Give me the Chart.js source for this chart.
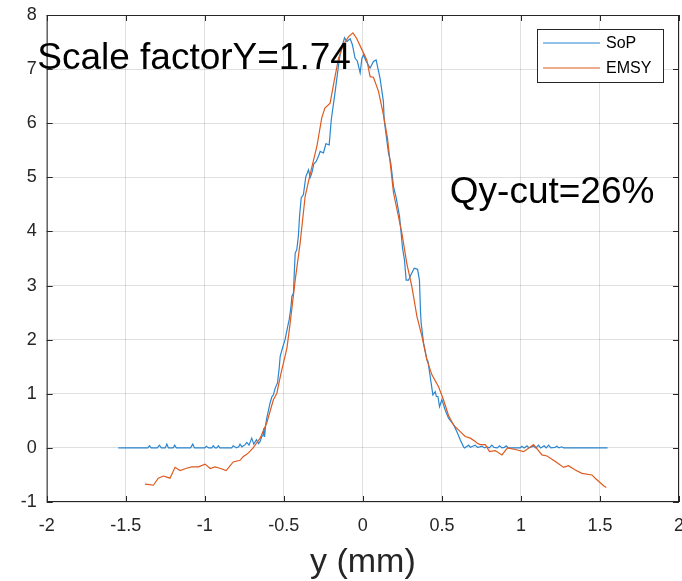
<!DOCTYPE html>
<html>
<head>
<meta charset="utf-8">
<script src="https://cdn.jsdelivr.net/npm/chart.js@4.4.0/dist/chart.umd.min.js"></script>
<style>
  html, body { margin: 0; padding: 0; background: #fff; }
  canvas { display: block; }
</style>
</head>
<body>
<canvas id="profile" width="682" height="581"></canvas>
<script>
// measured profile (SoP) and fitted profile (EMSY), y in mm
const sopY = [
  -1.547, -1.36, -1.35, -1.34, -1.30, -1.287, -1.275, -1.25, -1.24, -1.23, -1.20, -1.19, -1.18,
  -1.09, -1.076, -1.065, -1.00, -0.99, -0.975, -0.955, -0.946, -0.935, -0.924, -0.914, -0.905,
  -0.83, -0.82, -0.80, -0.785, -0.777, -0.765, -0.745, -0.734, -0.72, -0.703, -0.69, -0.673,
  -0.66, -0.65, -0.638, -0.632, -0.627, -0.622, -0.615, -0.608, -0.595, -0.587, -0.575, -0.566,
  -0.555, -0.54, -0.53, -0.523, -0.508, -0.492, -0.475, -0.466, -0.455, -0.449, -0.439, -0.435,
  -0.428, -0.418, -0.408, -0.40, -0.39, -0.376, -0.361, -0.344, -0.333, -0.323, -0.31, -0.296,
  -0.281, -0.27, -0.249, -0.234, -0.213, -0.20, -0.175, -0.148, -0.134, -0.116, -0.101, -0.08,
  -0.066, -0.049, -0.035, -0.017, -0.006, 0.004, 0.02, 0.046, 0.067, 0.084, 0.095, 0.109, 0.13,
  0.135, 0.162, 0.177, 0.194, 0.211, 0.232, 0.242, 0.251, 0.263, 0.274, 0.289, 0.304, 0.325,
  0.346, 0.358, 0.365, 0.369, 0.384, 0.405, 0.412, 0.426, 0.443, 0.458, 0.465, 0.475, 0.485,
  0.5, 0.51, 0.521, 0.542, 0.574, 0.595, 0.616, 0.637, 0.643, 0.655, 0.669, 0.68, 0.695, 0.711,
  0.725, 0.74, 0.753, 0.77, 0.785, 0.8, 0.816, 0.83, 0.85, 0.865, 0.88, 0.895, 0.907, 0.92,
  0.995, 1.006, 1.02, 1.038, 1.05, 1.08, 1.095, 1.111, 1.125, 1.147, 1.16, 1.175, 1.19, 1.215,
  1.228, 1.24, 1.259, 1.27, 1.548
];
const sopValues = [
  0, 0, 0.04, 0, 0, 0.05, 0, 0, 0.07, 0, 0, 0.05, 0,
  0, 0.07, 0, 0, 0.03, 0, 0, 0.04, 0, 0, 0.04, 0,
  0, 0.04, 0, 0.02, 0.07, 0.02, 0.06, 0.1, 0.05, 0.18, 0.07, 0.15,
  0.08, 0.12, 0.22, 0.22, 0.36, 0.2, 0.42, 0.55, 0.72, 0.83, 0.95, 0.98,
  1.1, 1.2, 1.45, 1.69, 1.85, 2.0, 2.25, 2.37, 2.6, 2.8, 2.86, 3.15,
  3.6, 3.66, 3.91, 4.3, 4.62, 4.68, 5.01, 5.14, 5.0, 5.08, 5.25, 5.29,
  5.39, 5.48, 5.45, 5.62, 5.6, 6.06, 6.59, 7.2, 7.39, 7.58, 7.51, 7.56,
  7.45, 7.2, 7.15, 6.93, 7.2, 7.26, 7.15, 7.02, 7.14, 7.17, 7.02, 6.83, 6.4,
  6.06, 5.45, 5.26, 4.83, 4.62, 4.28, 3.97, 3.69, 3.48, 3.1, 3.1, 3.2, 3.32,
  3.3, 3.1, 2.5, 2.3, 1.94, 1.63, 1.6, 1.32, 0.98, 1.04, 0.95, 0.95, 0.76,
  0.89, 0.8, 0.7, 0.55, 0.43, 0.3, 0.15, 0.02, 0, 0.02, 0.05, 0.01, 0.03, 0.05,
  0.01, 0.02, 0.03, 0, 0.02, 0, 0.05, 0.01, 0, 0.04, 0, 0.01, 0.04, 0,
  0, 0.03, 0, 0.04, 0, 0.03, 0, 0.05, 0, 0.04, 0, 0.05, 0, 0.01,
  0.03, 0, 0.02, 0, 0
];
const emsyY = [
  -1.378, -1.35, -1.325, -1.294, -1.262, -1.24, -1.22, -1.188, -1.156, -1.12, -1.082, -1.04,
  -0.998, -0.966, -0.935, -0.9, -0.865, -0.82, -0.777, -0.756, -0.734, -0.713, -0.694, -0.67,
  -0.65, -0.608, -0.566, -0.544, -0.52, -0.48, -0.46, -0.44, -0.428, -0.397, -0.365, -0.334,
  -0.291, -0.26, -0.24, -0.207, -0.186, -0.154, -0.123, -0.09, -0.063, -0.04, -0.006, 0.025,
  0.046, 0.067, 0.099, 0.13, 0.156, 0.194, 0.247, 0.278, 0.31, 0.342, 0.374, 0.405, 0.437,
  0.479, 0.51, 0.542, 0.574, 0.616, 0.648, 0.68, 0.711, 0.722, 0.742, 0.775, 0.801, 0.837,
  0.88, 0.915, 0.964, 1.017, 1.08, 1.133, 1.165, 1.218, 1.27, 1.301, 1.344, 1.386, 1.449,
  1.47, 1.523, 1.54
];
const emsyValues = [
  -0.67, -0.68, -0.69, -0.56, -0.52, -0.54, -0.56, -0.36, -0.42, -0.38, -0.35, -0.35,
  -0.3, -0.38, -0.35, -0.38, -0.42, -0.26, -0.23, -0.16, -0.12, -0.06, 0.0, 0.1,
  0.18, 0.46, 0.89, 1.01, 1.35, 1.85, 2.3, 2.8, 3.1, 3.78, 4.65, 5.05,
  5.57, 6.1, 6.28, 6.37, 6.71, 7.2, 7.45, 7.6, 7.67, 7.57, 7.36, 7.17,
  6.86, 6.85, 6.59, 6.16, 5.72, 4.71, 3.97, 3.41, 2.98, 2.43, 2.06, 1.63, 1.35,
  1.13, 0.89, 0.6, 0.42, 0.3, 0.21, 0.18, 0.12, 0.09, 0.06, 0.06, -0.07, -0.05,
  -0.13, 0.0, -0.03, -0.07, 0.06, -0.13, -0.15, -0.25, -0.36, -0.33, -0.41, -0.47, -0.5,
  -0.56, -0.7, -0.73
];
const seriesNames = ['SoP', 'EMSY'];
const seriesColors = ['#2a86cf', '#de5a1e'];
const notes = [
  { text: 'Scale factorY=1.74', x: -2.06, y: 7.0 },
  { text: 'Qy-cut=26%', x: 0.55, y: 4.53 }
];

const toPoints = (xs, ys) => xs.map((v, i) => ({ x: v, y: ys[i] }));

const axisInk = '#262626';
const sans = '"Liberation Sans", Arial, Helvetica, sans-serif';

// box frame, inward ticks, legend and text labels on top of the plot
const frameAndNotes = {
  id: 'frameAndNotes',
  afterDatasetsDraw(chart) {
    const { ctx, chartArea: a, scales } = chart;
    const xs = scales.x, ys = scales.y;
    ctx.save();
    ctx.strokeStyle = axisInk;
    ctx.lineWidth = 1;
    ctx.strokeRect(a.left + 0.5, a.top + 0.5, a.right - a.left - 1, a.bottom - a.top - 1);

    const len = 6;
    ctx.beginPath();
    xs.ticks.forEach(t => {
      const px = Math.round(xs.getPixelForValue(t.value)) + 0.5;
      ctx.moveTo(px, a.bottom); ctx.lineTo(px, a.bottom - len);
      ctx.moveTo(px, a.top); ctx.lineTo(px, a.top + len);
    });
    ys.ticks.forEach(t => {
      const py = Math.round(ys.getPixelForValue(t.value)) + 0.5;
      ctx.moveTo(a.left, py); ctx.lineTo(a.left + len, py);
      ctx.moveTo(a.right, py); ctx.lineTo(a.right - len, py);
    });
    ctx.stroke();

    // legend
    const bw = 126, bh = 53;
    const bx = a.right - 16 - bw, by = a.top + 14;
    ctx.fillStyle = '#fff';
    ctx.fillRect(bx, by, bw, bh);
    ctx.strokeStyle = axisInk;
    ctx.lineWidth = 1;
    ctx.strokeRect(bx + 0.5, by + 0.5, bw, bh);
    ctx.font = '16px ' + sans;
    ctx.textBaseline = 'middle';
    ctx.textAlign = 'left';
    chart.data.datasets.forEach((ds, i) => {
      const ly = by + 14 + i * 25;
      ctx.strokeStyle = ds.borderColor;
      ctx.lineWidth = 1.2;
      ctx.beginPath();
      ctx.moveTo(bx + 6, ly);
      ctx.lineTo(bx + 63, ly);
      ctx.stroke();
      ctx.fillStyle = '#000';
      ctx.fillText(ds.label, bx + 69, ly + 1);
    });

    // text labels
    ctx.font = '37px ' + sans;
    ctx.fillStyle = '#000';
    ctx.textBaseline = 'alphabetic';
    notes.forEach(n => {
      ctx.fillText(n.text, xs.getPixelForValue(n.x), ys.getPixelForValue(n.y));
    });
    ctx.restore();
  }
};

const plainNumber = (v) => String(Math.round(v * 10) / 10);

new Chart(document.getElementById('profile'), {
  type: 'line',
  data: {
    datasets: [
      {
        label: seriesNames[0],
        data: toPoints(sopY, sopValues),
        borderColor: seriesColors[0],
        borderWidth: 1.2,
        pointRadius: 0,
        tension: 0,
        order: 1
      },
      {
        label: seriesNames[1],
        data: toPoints(emsyY, emsyValues),
        borderColor: seriesColors[1],
        borderWidth: 1.2,
        pointRadius: 0,
        tension: 0,
        order: 0
      }
    ]
  },
  options: {
    responsive: false,
    animation: false,
    layout: { autoPadding: false, padding: { top: 15, right: 3, bottom: 0, left: 0 } },
    plugins: {
      legend: { display: false },
      tooltip: { enabled: false }
    },
    scales: {
      x: {
        type: 'linear',
        min: -2,
        max: 2,
        afterFit: (s) => { s.height = 79; s.paddingLeft = 0; s.paddingRight = 0; },
        grid: { color: 'rgba(38,38,38,0.15)', drawTicks: false },
        border: { display: false },
        ticks: {
          stepSize: 0.5,
          autoSkip: false,
          maxRotation: 0,
          padding: 13,
          color: axisInk,
          font: { family: sans, size: 18 },
          callback: plainNumber
        },
        title: {
          display: true,
          text: 'y (mm)',
          color: axisInk,
          padding: { top: 0, bottom: 1 },
          font: { family: sans, size: 34, lineHeight: 1 }
        }
      },
      y: {
        min: -1,
        max: 8,
        afterFit: (s) => { s.width = 46.7; s.paddingTop = 0; s.paddingBottom = 0; },
        grid: { color: 'rgba(38,38,38,0.15)', drawTicks: false },
        border: { display: false },
        ticks: {
          stepSize: 1,
          padding: 10,
          color: axisInk,
          font: { family: sans, size: 18 },
          callback: plainNumber
        }
      }
    }
  },
  plugins: [frameAndNotes]
});
</script>
</body>
</html>
